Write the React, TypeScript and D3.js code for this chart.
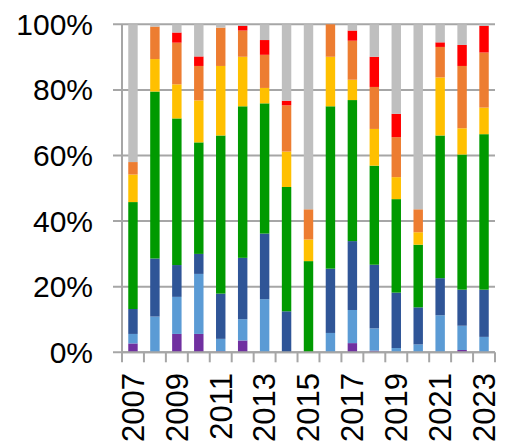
import React from "react";
import * as d3 from "d3";

const years = ["2007","2008","2009","2010","2011","2012","2013","2014","2015","2016","2017","2018","2019","2020","2021","2022","2023"];
const seriesNames = ["purple","lightBlue","darkBlue","green","yellow","orange","red","gray"];
const seriesColors = ["#7030A0","#5B9BD5","#2F5597","#009A00","#FFC000","#ED7D31","#FF0000","#BFBFBF"];

const purple    = [2.7, 0, 5.6, 5.6, 0.3, 3.6, 0, 0, 0, 0, 2.8, 0.5, 0, 0, 0, 0.7, 0];
const lightBlue = [2.9, 10.9, 11.3, 18.3, 3.8, 6.5, 16.2, 0, 0, 5.9, 10.1, 6.8, 1.3, 2.4, 11.3, 7.4, 4.7];
const darkBlue  = [7.6, 17.7, 9.7, 6.1, 13.8, 18.7, 20.0, 12.5, 0, 19.6, 21.0, 19.4, 16.9, 11.3, 11.3, 11.0, 14.4];
const green     = [32.6, 50.9, 44.7, 34.0, 48.2, 46.2, 39.7, 37.9, 27.8, 49.5, 43.0, 30.2, 28.5, 19.1, 43.5, 41.2, 47.4];
const yellow    = [8.4, 9.9, 10.4, 12.8, 21.2, 15.1, 4.7, 10.8, 6.6, 15.1, 6.2, 11.2, 6.7, 3.8, 17.7, 8.0, 8.1];
const orange    = [3.8, 9.9, 12.7, 10.5, 11.7, 8.0, 10.1, 14.1, 9.2, 9.9, 11.9, 12.8, 12.2, 7.0, 9.3, 19.0, 16.8];
const red       = [0, 0, 3.1, 2.9, 0, 1.4, 4.5, 1.4, 0, 0, 3.1, 9.2, 7.1, 0, 1.4, 6.4, 8.1];
const gray      = [42.0, 0.7, 2.5, 9.8, 1.0, 0.5, 4.8, 23.3, 56.4, 0, 1.9, 9.9, 27.3, 56.4, 5.5, 6.3, 0.5];

const yTicks = [0, 20, 40, 60, 80, 100];
const xLabelYears = ["2007","2009","2011","2013","2015","2017","2019","2021","2023"];

const W = 506, H = 447;
const left = 122, right = 495, top = 24.3, bottom = 352.3;

export default function App() {
  const allSeries = [purple, lightBlue, darkBlue, green, yellow, orange, red, gray];
  const rows = years.map((y, i) => {
    const r: any = { year: y };
    seriesNames.forEach((n, k) => (r[n] = allSeries[k][i]));
    return r;
  });
  const stacked = d3.stack().keys(seriesNames)(rows);
  const x = d3.scaleBand().domain(years).range([left, right]).paddingInner(0).paddingOuter(0);
  const y = d3.scaleLinear().domain([0, 100]).range([bottom, top]);
  const bw = x.bandwidth() * 0.43;
  const axisColor = "#A6A6A6";
  const font = "'Liberation Sans', Arial, sans-serif";

  return (
    <svg width={W} height={H} style={{ position: "absolute", left: 0, top: 0, background: "#fff" }}>
      {yTicks.map((t) => (
        <line key={"g" + t} x1={left - 9} x2={right} y1={y(t)} y2={y(t)} stroke={axisColor} strokeWidth={2} />
      ))}
      {stacked.map((s, k) => (
        <g key={s.key} fill={seriesColors[k]}>
          {s.map((d, i) => {
            const h = y(d[0]) - y(d[1]);
            if (h <= 0) return null;
            return (
              <rect key={i} x={(x(years[i]) as number) + (x.bandwidth() - bw) / 2} y={y(d[1])} width={bw} height={h} />
            );
          })}
        </g>
      ))}
      <line x1={left} x2={left} y1={top} y2={bottom} stroke={axisColor} strokeWidth={2} />
      <line x1={left} x2={right} y1={bottom} y2={bottom} stroke={axisColor} strokeWidth={2} />
      {years.concat(["end"]).map((yr, i) => {
        const xx = i < years.length ? (x(yr) as number) : right;
        return <line key={"xt" + i} x1={xx} x2={xx} y1={bottom} y2={bottom + 10} stroke={axisColor} strokeWidth={2} />;
      })}
      {yTicks.map((t) => (
        <text key={"yl" + t} x={93} y={y(t)} dy="0.35em" textAnchor="end" fontSize={30} fontFamily={font} fill="#000">
          {t + "%"}
        </text>
      ))}
      {xLabelYears.map((yr) => {
        const cx = (x(yr) as number) + x.bandwidth() / 2;
        return (
          <text key={"xl" + yr} transform={`translate(${cx},373) rotate(-90)`} dy="0.35em" textAnchor="end" fontSize={31} fontFamily={font} fill="#000">
            {yr}
          </text>
        );
      })}
    </svg>
  );
}
